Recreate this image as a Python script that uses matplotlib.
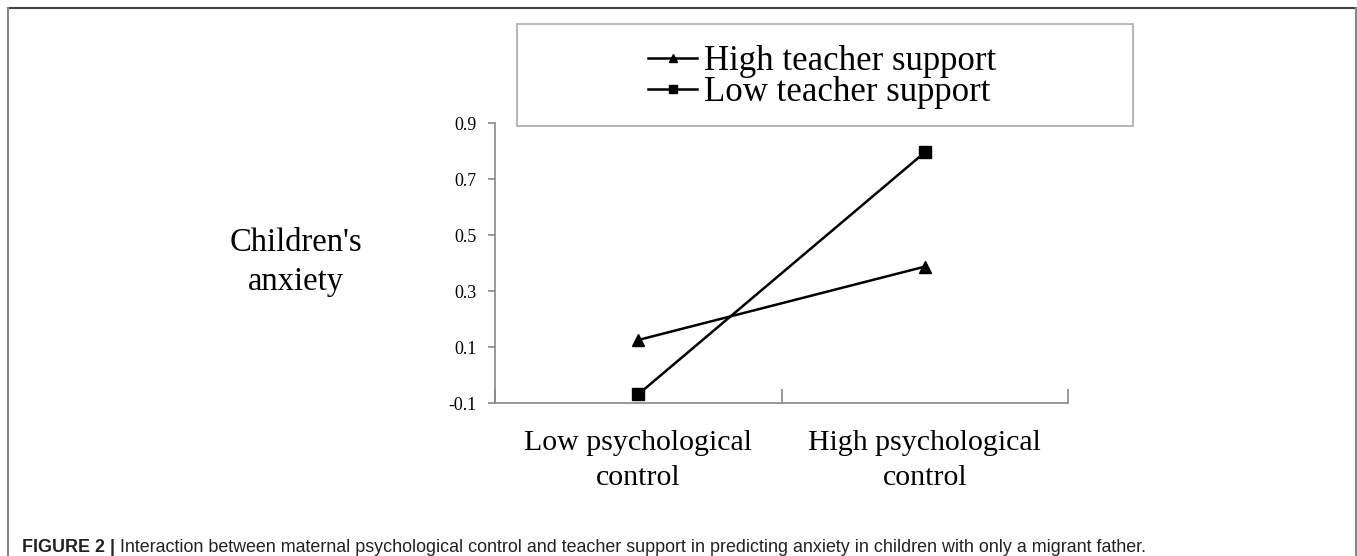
import matplotlib
matplotlib.use("Agg")
import matplotlib.pyplot as plt
from matplotlib.lines import Line2D
from matplotlib.patches import Rectangle

# data
groups = ["Low psychological\ncontrol", "High psychological\ncontrol"]
high_support = [0.125, 0.387]
low_support = [-0.069, 0.795]
yticks = [-0.1, 0.1, 0.3, 0.5, 0.7, 0.9]

W, H = 1357, 556
fig = plt.figure(figsize=(W / 100, H / 100), dpi=100)
serif = "Liberation Serif"

def fx(px):
    return px / W

def fy(py):
    return 1 - py / H

ax = fig.add_axes([fx(495), fy(403), fx(1068) - fx(495), fy(123) - fy(403)])
xpos = [0.5, 1.5]
ax.plot(xpos, high_support, color="black", lw=1.8, marker="^", ms=9)
ax.plot(xpos, low_support, color="black", lw=1.8, marker="s", ms=8)

ax.set_xlim(0, 2)
ax.set_ylim(-0.1, 0.9)
ax.set_yticks(yticks)
ax.set_yticklabels(["%.1f" % v for v in yticks], fontfamily=serif, fontsize=13)
ax.set_xticks([0, 1, 2])
ax.set_xticklabels([])
ax.tick_params(axis="x", direction="in", length=10, color="#888888", width=1.2)
ax.tick_params(axis="y", direction="out", length=5, color="#888888", width=1.2, pad=8)
for s in ["top", "right"]:
    ax.spines[s].set_visible(False)
for s in ["left", "bottom"]:
    ax.spines[s].set_color("#888888")
    ax.spines[s].set_linewidth(1.2)

for x, lab in zip(xpos, groups):
    ax.text(x, -0.095, lab, transform=ax.get_xaxis_transform(), ha="center", va="top",
            fontfamily=serif, fontsize=21.5, linespacing=1.45)

fig.text(fx(296), fy(262), "Children's\nanxiety", ha="center", va="center",
         fontfamily=serif, fontsize=23.5, linespacing=1.35)

# legend box
fig.patches.append(Rectangle((fx(517), fy(126)), fx(1133) - fx(517), fy(24) - fy(126),
                             transform=fig.transFigure, fill=False, ec="#aaaaaa", lw=1.2))
handles = [Line2D([], [], color="black", lw=1.8, marker="^", ms=6),
           Line2D([], [], color="black", lw=1.8, marker="s", ms=6)]
fig.legend(handles, ["High teacher support", "Low teacher support"], loc="center left",
           bbox_to_anchor=(fx(631), fy(77)), frameon=False, borderpad=0,
           handlelength=1.4, handletextpad=0.2, labelspacing=-0.04,
           prop={"family": serif, "size": 25})

# outer frame
fig.add_artist(Line2D([fx(8), fx(1356)], [fy(8), fy(8)], color="#444444", lw=1.5))
fig.add_artist(Line2D([fx(8), fx(8)], [fy(8), 0], color="#888888", lw=1.5))
fig.add_artist(Line2D([fx(1356), fx(1356)], [fy(8), 0], color="#888888", lw=1.5))

# caption
t1 = fig.text(fx(22), fy(547), "FIGURE 2 |", fontfamily="Liberation Sans", fontweight="bold",
              fontsize=12.85, color="#222222", va="center")
fig.canvas.draw()
bb = t1.get_window_extent()
fig.text(bb.x1 / W + fx(5), fy(547),
         "Interaction between maternal psychological control and teacher support in predicting "
         "anxiety in children with only a migrant father.",
         fontfamily="Liberation Sans", fontsize=12.85, color="#222222", va="center")

fig.savefig("out.png", dpi=100)
